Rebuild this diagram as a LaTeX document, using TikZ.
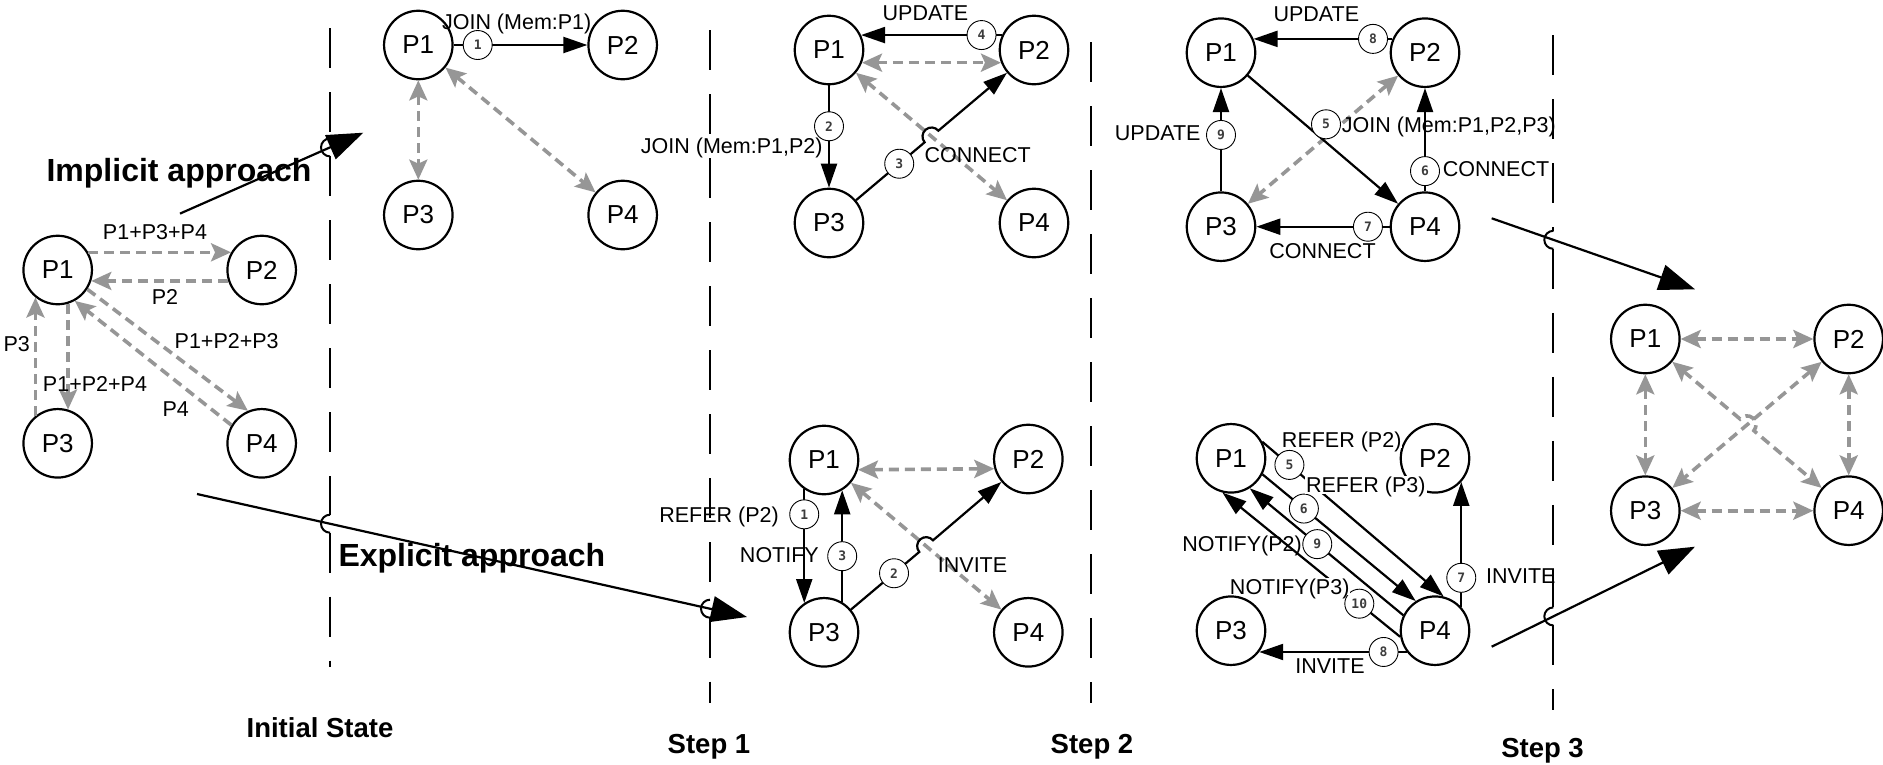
\documentclass[tikz,border=0pt]{standalone}
\usepackage{fontspec}
\setmainfont{Liberation Sans}
\newfontfamily\monofnt{DejaVu Sans Mono}
\usetikzlibrary{arrows.meta,calc}
\definecolor{dgray}{RGB}{150,150,150}
\definecolor{numgray}{RGB}{60,60,60}
\tikzset{
 pn/.style={circle, draw=black, line width=2.2pt, fill=white, minimum size=68.5pt, inner sep=0pt, font=\fontsize{26}{30}\selectfont},
 numc/.style={circle, draw=black, line width=0.9pt, fill=white, minimum size=29pt, inner sep=0pt, font=\monofnt\bfseries\fontsize{13}{15}\selectfont, text=numgray},
 lbl/.style={inner sep=1pt, font=\fontsize{21.5}{24}\selectfont, text height=15.5pt, text depth=0pt},
 lblw/.style={lbl, fill=white},
 blk/.style={draw=black, line width=2.2pt, arrows={-Triangle[length=24pt,width=16pt]}},
 gry/.style={draw=dgray, line width=3.6pt, dash pattern=on 10pt off 6pt, arrows={-Stealth[length=20pt,width=18pt,inset=4pt]}},
 gry2/.style={draw=dgray, line width=3.6pt, dash pattern=on 10pt off 6pt, arrows={Stealth[length=20pt,width=18pt,inset=4pt]-Stealth[length=20pt,width=18pt,inset=4pt]}},
 big/.style={draw=black, line width=2.2pt, arrows={-Triangle[length=36pt,width=26pt]}},
 sepl/.style={draw=black, line width=2pt, dash pattern=on 40pt off 24pt},
 hopl/.style={draw=black, line width=2pt},
 ttl/.style={font=\bfseries\fontsize{32}{36}\selectfont, inner sep=0pt, text height=23pt, text depth=0pt},
 stp/.style={font=\bfseries\fontsize{27.5}{31}\selectfont, inner sep=0pt, text height=19.7pt, text depth=0pt},
}
\begin{document}
\begin{tikzpicture}[x=1pt,y=-1pt]
\fill[white] (0,0) rectangle (1883,764);
\useasboundingbox (0,0) rectangle (1883,764);

% ---------------- nodes ----------------
\node[pn] (a1) at (57.7,270) {P1};
\node[pn] (a2) at (261.7,270) {P2};
\node[pn] (a3) at (57.7,443.3) {P3};
\node[pn] (a4) at (261.7,443.3) {P4};

\node[pn] (b1) at (418.3,45) {P1};
\node[pn] (b2) at (622.7,45) {P2};
\node[pn] (b3) at (418.3,215) {P3};
\node[pn] (b4) at (622.7,215) {P4};

\node[pn] (c1) at (829,50) {P1};
\node[pn] (c2) at (1034,50) {P2};
\node[pn] (c3) at (829,223) {P3};
\node[pn] (c4) at (1034,223) {P4};

\node[pn] (d1) at (824,460) {P1};
\node[pn] (d2) at (1028.3,459) {P2};
\node[pn] (d3) at (824,632.3) {P3};
\node[pn] (d4) at (1028.3,632.3) {P4};

\node[pn] (e1) at (1221,52.7) {P1};
\node[pn] (e2) at (1425,52.7) {P2};
\node[pn] (e3) at (1221,226.7) {P3};
\node[pn] (e4) at (1425,226.7) {P4};

\node[pn] (f1) at (1231,458.3) {P1};
\node[pn] (f2) at (1435,458.3) {P2};
\node[pn] (f3) at (1231,630.7) {P3};
\node[pn] (f4) at (1435,630.7) {P4};

\node[pn] (g1) at (1645.3,339) {P1};
\node[pn] (g2) at (1848.7,339) {P2};
\node[pn] (g3) at (1645.3,510.7) {P3};
\node[pn] (g4) at (1848.7,510.7) {P4};

\coordinate (cX) at ($(c1)!0.5!(c4)$);
\coordinate (dX) at ($(d1)!0.5!(d4)$);
\coordinate (gX) at ($(g1)!0.5!(g4)$);

% ---------------- gray dashed connectors ----------------
\draw[gry] (a1.30) -- (a2.150);
\draw[gry] (a2.198) -- (a1.-18);
\draw[gry] (a1.-73) -- (a3.73);
\draw[gry] (a3.129) -- (a1.231);
\draw[gry] (a1.-33) -- (a4.113);
\draw[gry] (a4.149) -- (a1.-61);

\draw[gry2] (b1) -- (b3);
\draw[gry2] (b1) -- (b4);

\draw[gry2] (c1.-21) -- (c2.201);
\draw[gry2] (c1) -- (c4);

\draw[gry2] (d1.-16) -- (d2.196);
\draw[gry2] (d1) -- (d4);

\draw[gry2] (e2) -- (e3);

\draw[gry2] (g1) -- (g2);
\draw[gry2] (g3) -- (g4);
\draw[gry2] (g1) -- (g3);
\draw[gry2] (g2) -- (g4);
\draw[gry2] (g2) -- (g3);
\draw[gry2] (g1) -- ($(gX)!9pt!(g1)$) arc[start angle=139.8,end angle=-40.2,radius=9pt] -- (g4);

% ---------------- black connectors ----------------
\draw[blk] (b1) -- node[numc,pos=.18]{1} (b2);

\draw[blk] (c2.155) -- node[numc,pos=.145]{4} (c1.25);
\draw[blk] (c1) -- node[numc,pos=.4]{2} (c3);
\draw[blk] (c3) -- node[numc,pos=.63]{3} ($(cX)!9pt!(c3)$) arc[start angle=220.2,end angle=40.2,radius=9pt] -- (c2);

\draw[blk] (d1.236) -- node[numc,pos=.22]{1} (d3.124);
\draw[blk] (d3.59) -- node[numc,pos=.41]{3} (d1.301);
\draw[blk] (d3) -- node[numc,pos=.63]{2} ($(dX)!9pt!(d3)$) arc[start angle=220.3,end angle=40.3,radius=9pt] -- (d2);

\draw[blk] (e2.157) -- node[numc,pos=.14]{8} (e1.23);
\draw[blk] (e3) -- node[numc,pos=.546]{9} (e1);
\draw[blk] (e1) -- (e4);
\draw[blk] (e4) -- node[numc,pos=.196]{6} (e2);
\draw[blk] (e4) -- node[numc,pos=.163]{7} (e3);
\node[numc] (n5) at (1326,124.3) {5};

\draw[blk] (f1.28) -- node[numc,pos=.15]{5} (f4.76);
\draw[blk] (f1.-27) -- node[numc,pos=.27]{6} (f4.123);
\draw[blk] (f4.154) -- node[numc,pos=.56]{9} (f1.-58);
\draw[blk] (f4.190) -- node[numc,pos=.23]{10} (f1.-104);
\draw[blk] (f4.42) -- node[numc,pos=.234]{7} (f2.318);
\draw[blk] (f4.217) -- node[numc,pos=.157]{8} (f3.323);

% ---------------- labels ----------------
\node[lbl] (la1) at (155,231.7) {P1+P3+P4};
\node[lbl] (la2) at (165,296.7) {P2};
\node[lbl] (la3) at (16.7,343.3) {P3};
\node[lbl] (la4) at (95,384) {P1+P2+P4};
\node[lbl] (la5) at (226.7,340.8) {P1+P2+P3};
\node[lbl] (la6) at (175.8,408.3) {P4};

\node[lbl] (lb1) at (516.7,21.7) {JOIN (Mem:P1)};

\node[lbl] (lc1) at (925.5,12.7) {UPDATE};
\node[lbl] (lc2) at (731.7,146) {JOIN (Mem:P1,P2)};
\node[lbl, anchor=west] (lc3) at (923.3,155) {CONNECT};

\node[lbl, anchor=east] (ld1) at (780,515) {REFER (P2)};
\node[lbl, anchor=east] (ld2) at (820,555) {NOTIFY};
\node[lbl, anchor=west] (ld3) at (936.7,564.3) {INVITE};

\node[lbl] (le1) at (1316.3,14) {UPDATE};
\node[lbl, anchor=east] (le2) at (1201.7,132.5) {UPDATE};
\node[lbl, anchor=west] (le3) at (1340.7,125) {JOIN (Mem:P1,P2,P3)};
\node[lbl, anchor=west] (le4) at (1441.7,169) {CONNECT};
\node[lbl] (le5) at (1322.5,250.8) {CONNECT};

\node[lblw] (lf1) at (1341.7,439.3) {REFER (P2)};
\node[lblw] (lf2) at (1365.8,485) {REFER (P3)};
\node[lbl] (lf3) at (1242,543.3) {NOTIFY(P2)};
\node[lblw] (lf4) at (1289.7,586.7) {NOTIFY(P3)};
\node[lbl, anchor=west] (lf5) at (1485,576) {INVITE};
\node[lbl] (lf6) at (1330,665.8) {INVITE};

% ---------------- separators with hops ----------------
\draw[sepl] (330,28) -- (330,138.4);
\draw[hopl] (330,138.4) arc[start angle=90,end angle=270,radius=9pt];
\draw[sepl] (330,156.4) -- (330,514.7);
\draw[hopl] (330,514.7) arc[start angle=90,end angle=270,radius=9pt];
\draw[sepl] (330,532.7) -- (330,667);

\draw[sepl] (710,30) -- (710,599.7);
\draw[hopl] (710,599.7) arc[start angle=90,end angle=270,radius=9pt];
\draw[sepl] (710,617.7) -- (710,703);

\draw[sepl] (1090.7,42) -- (1090.7,703);

\draw[sepl] (1553.3,35) -- (1553.3,230.8);
\draw[hopl] (1553.3,230.8) arc[start angle=90,end angle=270,radius=9pt];
\draw[sepl] (1553.3,248.8) -- (1553.3,607.4);
\draw[hopl] (1553.3,607.4) arc[start angle=90,end angle=270,radius=9pt];
\draw[sepl] (1553.3,625.4) -- (1553.3,710);

% ---------------- big arrows ----------------
\coordinate (ia) at (180,213.6);
\coordinate (ib) at (363.3,132.7);
\coordinate (ea) at (197,494);
\coordinate (eb) at (747,617);
\coordinate (ta) at (1491.7,218.3);
\coordinate (tb) at (1695,289.3);
\coordinate (ua) at (1491.7,646.7);
\coordinate (ub) at (1695,546.7);
\draw[big] (ia) -- (ib);
\draw[big] (ea) -- (eb);
\draw[big] (ta) -- (tb);
\draw[big] (ua) -- (ub);

% ---------------- titles ----------------
\node[ttl, anchor=east] (t1) at (311.7,169.5) {Implicit approach};
\node[ttl, anchor=west] (t2) at (338.3,555.3) {Explicit approach};
\node[stp] (s0) at (320,727.5) {Initial State};
\node[stp] (s1) at (709,744) {Step 1};
\node[stp] (s2) at (1092,744) {Step 2};
\node[stp] (s3) at (1542.5,748) {Step 3};
\end{tikzpicture}
\end{document}
